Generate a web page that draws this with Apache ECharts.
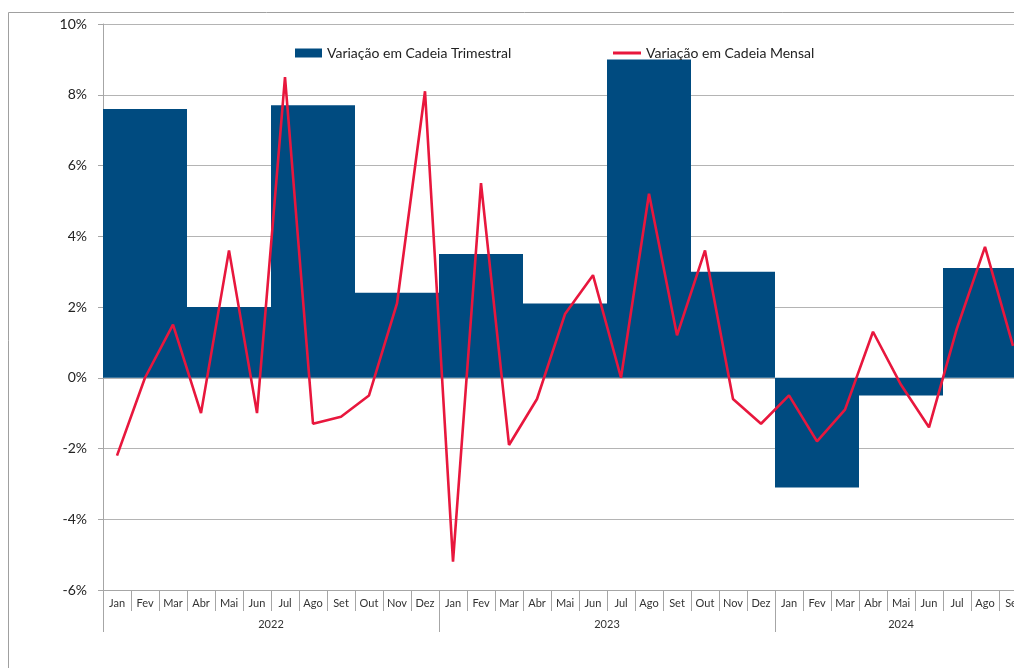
<!DOCTYPE html>
<html>
<head>
<meta charset="utf-8">
<script src="https://cdn.jsdelivr.net/npm/echarts@6/dist/echarts.min.js"></script>
<style>
  html, body { margin: 0; padding: 0; background: #fff; overflow: hidden; }
  #chart { width: 1040px; height: 668px; }
</style>
</head>
<body>
<div id="chart"></div>
<script>
// dados
const years = ["2022", "2023", "2024"];
const monthNames = ["Jan", "Fev", "Mar", "Abr", "Mai", "Jun", "Jul", "Ago", "Set", "Out", "Nov", "Dez"];
const monthsPerYear = [12, 12, 9];
const quarterNames = ["T1 22", "T2 22", "T3 22", "T4 22", "T1 23", "T2 23", "T3 23", "T4 23", "T1 24", "T2 24", "T3 24"];
const quarterly = [7.6, 2.0, 7.7, 2.4, 3.5, 2.1, 9.0, 3.0, -3.1, -0.5, 3.1];
const monthly = [
  -2.2, 0.0, 1.5, -1.0, 3.6, -1.0, 8.5, -1.3, -1.1, -0.5, 2.1, 8.1,
  -5.2, 5.5, -1.9, -0.6, 1.8, 2.9, 0.0, 5.2, 1.2, 3.6, -0.6, -1.3,
  -0.5, -1.8, -0.9, 1.3, -0.2, -1.4, 1.4, 3.7, 0.9
];
const yTicks = [-6, -4, -2, 0, 2, 4, 6, 8, 10];

// categorias mensais
let categories = [];
let yearOf = [];
years.forEach((y, k) => {
  for (let m = 0; m < monthsPerYear[k]; m++) {
    categories.push(monthNames[m] + " " + y);
    yearOf.push(y);
  }
});
// posição do rótulo do ano (meio do bloco)
let yearLabelIdx = {};
let start = 0;
monthsPerYear.forEach((n, k) => {
  yearLabelIdx[start + Math.floor((n - 1) / 2)] = n % 2 === 0 ? "shift" : "plain";
  start += n;
});

const font = "Lato, 'Noto Sans', sans-serif";
const gray = "#a6a6a6";

let mychart = echarts.init(document.getElementById("chart"));
let option = {
  animation: false,
  textStyle: { fontFamily: font },
  graphic: [
    {
      type: "rect",
      shape: { x: 8.5, y: 12.5, width: 1100, height: 700 },
      style: { fill: "none", stroke: "#a0a0a0", lineWidth: 1 },
      z: -10,
    },
  ],
  legend: [
    {
      left: 290,
      top: 41,
      itemWidth: 27,
      itemHeight: 9,
      textStyle: { fontSize: 14, color: "#222", fontFamily: font },
      data: [{ name: "Variação em Cadeia Trimestral", icon: "rect" }],
    },
    {
      left: 608,
      top: 41,
      itemWidth: 28,
      itemHeight: 3,
      textStyle: { fontSize: 14, color: "#222", fontFamily: font },
      data: [{ name: "Variação em Cadeia Mensal", icon: "rect" }],
    },
  ],
  grid: { left: 103, top: 24, width: 924, height: 566 },
  xAxis: [
    {
      type: "category",
      data: categories,
      position: "bottom",
      axisLine: { onZero: false, lineStyle: { color: gray } },
      axisTick: { show: true, length: 21, lineStyle: { color: gray } },
      axisLabel: {
        interval: 0,
        fontSize: 11,
        margin: 8,
        color: "#333",
        formatter: (v) => v.split(" ")[0],
      },
      splitLine: { show: false },
    },
    {
      type: "category",
      data: categories,
      position: "bottom",
      axisLine: { onZero: false, lineStyle: { color: gray } },
      axisTick: {
        show: true,
        length: 42,
        interval: (i) => i % 12 === 0,
        lineStyle: { color: gray },
      },
      axisLabel: {
        interval: (i) => yearLabelIdx[i] !== undefined,
        margin: 29,
        fontSize: 11,
        color: "#333",
        formatter: (v, i) =>
          yearLabelIdx[i] === "shift" ? "{s|" + yearOf[i] + "}" : yearOf[i],
        rich: {
          s: { padding: [0, 0, 0, 28], fontSize: 11, color: "#333", fontFamily: font },
        },
      },
      splitLine: { show: false },
    },
    {
      type: "category",
      data: quarterNames,
      show: false,
    },
  ],
  yAxis: {
    type: "value",
    min: yTicks[0],
    max: yTicks[yTicks.length - 1],
    interval: 2,
    axisLine: { show: true, onZero: false, lineStyle: { color: gray } },
    axisTick: { show: true, length: 5, lineStyle: { color: gray } },
    axisLabel: {
      margin: 16,
      fontSize: 14,
      color: "#222",
      formatter: (v) => v + "%",
    },
    splitLine: { lineStyle: { color: "#b4b4b4", width: 1 } },
  },
  series: [
    {
      name: "Variação em Cadeia Trimestral",
      type: "bar",
      xAxisIndex: 2,
      barCategoryGap: "0%",
      itemStyle: { color: "#004b80" },
      data: quarterly,
      z: 2,
    },
    {
      name: "Variação em Cadeia Mensal",
      type: "line",
      xAxisIndex: 0,
      showSymbol: false,
      symbol: "none",
      lineStyle: { color: "#e8173d", width: 2.6 },
      itemStyle: { color: "#e8173d" },
      data: monthly,
      z: 3,
    },
  ],
};
mychart.setOption(option);
</script>
</body>
</html>
